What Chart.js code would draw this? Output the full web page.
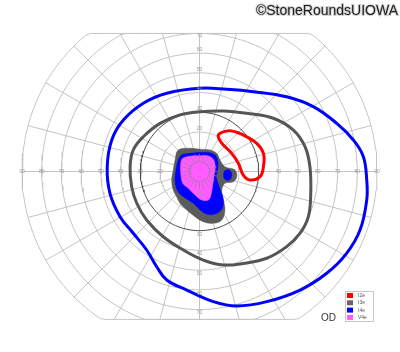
<!DOCTYPE html>
<html>
<head>
<meta charset="utf-8">
<style>
  html, body { margin: 0; padding: 0; background: #fff; }
</style>
</head>
<body>
<canvas id="grafica" width="400" height="352"></canvas>
<script src="https://cdn.jsdelivr.net/npm/chart.js@4/dist/chart.umd.min.js"></script>
<script>
const i4eX = [0.3, -16.6, -28.5, -38.6, -44.5, -46.8, -45.4, -40.3, -33.6, -26.8, -21.7, -16.6, -6.5, 7.0, 18.9, 34.1, 51.0, 64.5, 74.6, 81.4, 84.8, 84.8, 83.1, 78.0, 69.6, 57.7, 44.2, 27.3, 13.8];
const i4eY = [42.2, 39.7, 34.6, 26.1, 16.0, 2.4, -11.1, -22.9, -31.3, -39.8, -48.3, -55.0, -60.1, -66.0, -68.2, -66.0, -60.1, -51.6, -41.5, -29.7, -14.5, -4.3, 7.5, 16.0, 24.4, 32.9, 37.9, 40.5, 41.7];

const i3eX = [0.3, -9.9, -20.0, -28.5, -33.6, -35.2, -34.4, -31.8, -26.8, -18.4, -8.2, 1.9, 12.1, 22.2, 34.1, 44.2, 51.0, 55.2, 56.4, 56.0, 53.5, 47.6, 37.4, 23.9, 12.1];
const i3eY = [30.3, 28.7, 24.4, 17.6, 10.9, 2.4, -7.7, -16.1, -24.6, -33.1, -39.8, -44.9, -47.4, -46.6, -44.0, -38.1, -31.3, -22.9, -11.1, 2.4, 12.6, 21.0, 27.0, 29.5, 30.7];

const i2eX = [10.4, 15.5, 22.2, 29.0, 32.4, 32.4, 30.7, 25.6, 22.2, 19.7, 16.3, 11.3, 9.5];
const i2eY = [19.4, 20.7, 18.5, 14.3, 9.2, 2.4, -2.6, -4.3, -1.8, 4.2, 9.2, 14.3, 17.6];

// zonas rellenas centrales
const grisX = [-10.8, -4.8, 0.3, 5.3, 8.7, 10.4, 12.9, 18.0, 18.9, 17.1, 12.9, 11.3, 12.1, 12.9, 11.3, 7.0, 1.9, -2.3, -6.5, -9.9, -11.6, -13.3, -14.1, -13.3, -12.4];
const grisY = [10.9, 11.8, 11.3, 10.9, 9.2, 5.8, 2.4, 0.8, -2.6, -5.2, -6.0, -9.4, -14.5, -19.5, -24.6, -26.3, -25.5, -22.9, -19.5, -16.1, -12.8, -9.4, -4.3, 0.8, 5.8];

const azulX = [-9.0, -4.8, 3.7, 7.9, 9.3, 9.2, 8.5, 10.0, 12.1, 11.3, 7.9, 3.7, 0.3, -3.1, -8.2, -11.3, -12.4, -11.9, -10.8];
const azulY = [8.4, 9.2, 9.7, 8.4, 5.0, 0.8, -2.6, -7.7, -14.5, -19.2, -21.6, -21.6, -19.5, -16.1, -12.8, -9.4, -4.3, 0.8, 5.8];

const islaX = [14.2, 15.8, 16.3, 15.8, 14.2, 12.7, 12.2, 12.7];
const islaY = [0.9, 0.2, -1.8, -3.8, -4.5, -3.8, -1.8, 0.2];

const v4eX = [-8.5, -4.0, 0.3, 4.5, 7.0, 8.0, 7.4, 6.7, 5.8, 4.5, 1.1, -2.3, -5.7, -8.5, -9.5, -9.5];
const v4eY = [6.7, 7.9, 8.0, 7.9, 6.2, 2.4, -1.8, -6.8, -11.9, -14.5, -14.5, -11.9, -8.5, -6.0, -0.9, 4.2];

// etiquetas de los ejes
const etiquetasIzq = [90, 80, 70, 60, 50, 40, 30, 20];
const etiquetasDer = [40, 50, 60, 70, 80, 90];
const etiquetasArriba = [20, 30, 40, 50, 60, 70];
const etiquetasAbajo = [10, 30, 40, 50, 60, 70];

const nombresLeyenda = ["I2e", "I3e", "I4e", "V4e"];
const coloresLeyenda = ["#ff0000", "#666666", "#0000ff", "#ff5cff"];

const circulos = [5, 10, 20, 40, 50, 60, 70, 80, 90];
const limiteArriba = 70;
const limiteAbajo = -75;

function puntos(xs, ys) {
  return xs.map((x, i) => ({ x: x, y: ys[i] }));
}

function circulo(r, lista) {
  for (let a = 0; a <= 360; a += 2) {
    const rad = (a * Math.PI) / 180;
    const y = Math.max(limiteAbajo, Math.min(limiteArriba, r * Math.sin(rad)));
    lista.push({ x: r * Math.cos(rad), y: y });
  }
  lista.push({ x: null, y: null });
}

function radio(rad, r0, r1, lista) {
  lista.push({ x: r0 * Math.cos(rad), y: r0 * Math.sin(rad) });
  lista.push({ x: r1 * Math.cos(rad), y: r1 * Math.sin(rad) });
  lista.push({ x: null, y: null });
}

function reticula() {
  const lista = [];
  circulos.forEach((r) => circulo(r, lista));
  for (let a = 0; a < 360; a += 15) {
    const rad = (a * Math.PI) / 180;
    const s = Math.sin(rad);
    let rmax = 90;
    if (s > 0.001) rmax = Math.min(90, limiteArriba / s);
    if (s < -0.001) rmax = Math.min(90, -limiteAbajo / -s);
    radio(rad, 5, rmax, lista);
  }
  return lista;
}

// trozo central de la reticula que se ve sobre el V4e
function reticulaCentral() {
  const lista = [];
  circulo(5, lista);
  for (let a = 0; a < 360; a += 15) {
    radio((a * Math.PI) / 180, 5, 9, lista);
  }
  return lista;
}

function circulo30() {
  const lista = [];
  circulo(30, lista);
  return lista;
}

function relleno(datos, color, orden) {
  return {
    data: datos,
    showLine: true,
    cerrada: true,
    pointRadius: 0,
    tension: 0.35,
    borderWidth: 0.5,
    borderColor: color,
    backgroundColor: color,
    fill: "shape",
    order: orden,
  };
}

function contorno(datos, color, orden) {
  return {
    data: datos,
    showLine: true,
    cerrada: true,
    pointRadius: 0,
    tension: 0.4,
    borderWidth: 3,
    borderColor: color,
    fill: false,
    order: orden,
  };
}

// cierra las curvas como en el radar
const cerrarCurvas = {
  id: "cerrarCurvas",
  afterDatasetUpdate(chart, args) {
    const ds = chart.data.datasets[args.index];
    if (ds.cerrada) {
      args.meta.dataset._loop = true;
      args.meta.dataset._fullLoop = true;
    }
  },
};

const textos = {
  id: "textos",
  afterDatasetsDraw(chart) {
    const ctx = chart.ctx;
    const xs = chart.scales.x;
    const ys = chart.scales.y;
    const y0 = ys.getPixelForValue(0);
    const x0 = xs.getPixelForValue(0);
    ctx.save();
    ctx.font = '5px "Liberation Sans", Arial, sans-serif';
    ctx.fillStyle = "#9a9a9a";
    ctx.textAlign = "center";
    ctx.textBaseline = "middle";
    etiquetasIzq.forEach((v) => ctx.fillText(String(v), xs.getPixelForValue(-v), y0));
    etiquetasDer.forEach((v) => ctx.fillText(String(v), xs.getPixelForValue(v), y0));
    etiquetasArriba.forEach((v) => {
      const y = Math.max(ys.getPixelForValue(v) - 3.5, ys.getPixelForValue(limiteArriba) + 2.5);
      ctx.fillText(String(v), x0, y);
    });
    etiquetasAbajo.forEach((v) => ctx.fillText(String(v), x0, ys.getPixelForValue(-v) + 3.5));

    // leyenda
    ctx.fillStyle = "#fff";
    ctx.fillRect(346, 292, 27, 30);
    ctx.strokeStyle = "#c8c8c8";
    ctx.lineWidth = 1;
    ctx.strokeRect(345.5, 291.5, 28, 30);
    nombresLeyenda.forEach((n, i) => {
      ctx.fillStyle = coloresLeyenda[i];
      ctx.fillRect(347, 293 + i * 7.3, 6, 5);
      ctx.fillStyle = "#555";
      ctx.textAlign = "left";
      ctx.fillText(n, 358, 295.8 + i * 7.3);
    });

    ctx.fillStyle = "#333";
    ctx.font = '10px "Liberation Sans", Arial, sans-serif';
    ctx.textBaseline = "alphabetic";
    ctx.fillText("OD", 321, 320.5);

    ctx.font = '14px "Liberation Sans", Arial, sans-serif';
    ctx.textAlign = "right";
    ctx.lineWidth = 2;
    ctx.strokeStyle = "rgba(0,0,0,0.18)";
    ctx.strokeText("©StoneRoundsUIOWA", 398, 15);
    ctx.fillStyle = "#222";
    ctx.fillText("©StoneRoundsUIOWA", 398, 15);
    ctx.restore();
  },
};

const configuracion = {
  type: "scatter",
  data: {
    datasets: [
      {
        data: reticula(),
        showLine: true,
        pointRadius: 0,
        borderWidth: 1,
        borderColor: "#c4c4c4",
        spanGaps: false,
        fill: false,
        order: 9,
      },
      relleno(puntos(grisX, grisY), "#5c5c5c", 8),
      relleno(puntos(azulX, azulY), "#0000ff", 7),
      relleno(puntos(islaX, islaY), "#0000ff", 7),
      relleno(puntos(v4eX, v4eY), "#ff5cff", 6),
      {
        data: reticulaCentral(),
        showLine: true,
        pointRadius: 0,
        borderWidth: 0.8,
        borderColor: "rgba(170,120,170,0.9)",
        spanGaps: false,
        fill: false,
        order: 5,
      },
      {
        data: circulo30(),
        showLine: true,
        pointRadius: 0,
        borderWidth: 1,
        borderColor: "#444444",
        spanGaps: false,
        fill: false,
        order: 3,
      },
      contorno(puntos(i3eX, i3eY), "#555555", 2),
      contorno(puntos(i4eX, i4eY), "#0000ff", 1),
      contorno(puntos(i2eX, i2eY), "#ff0000", 1),
    ],
  },
  options: {
    responsive: false,
    devicePixelRatio: 1,
    animation: false,
    layout: { padding: 0 },
    plugins: { legend: { display: false }, tooltip: { enabled: false } },
    scales: {
      x: { type: "linear", min: -101.17, max: 101.67, display: false },
      y: { type: "linear", min: -91.53, max: 86.97, display: false },
    },
  },
  plugins: [cerrarCurvas, textos],
};

const grafica = new Chart(document.querySelector("#grafica"), configuracion);
</script>
</body>
</html>
